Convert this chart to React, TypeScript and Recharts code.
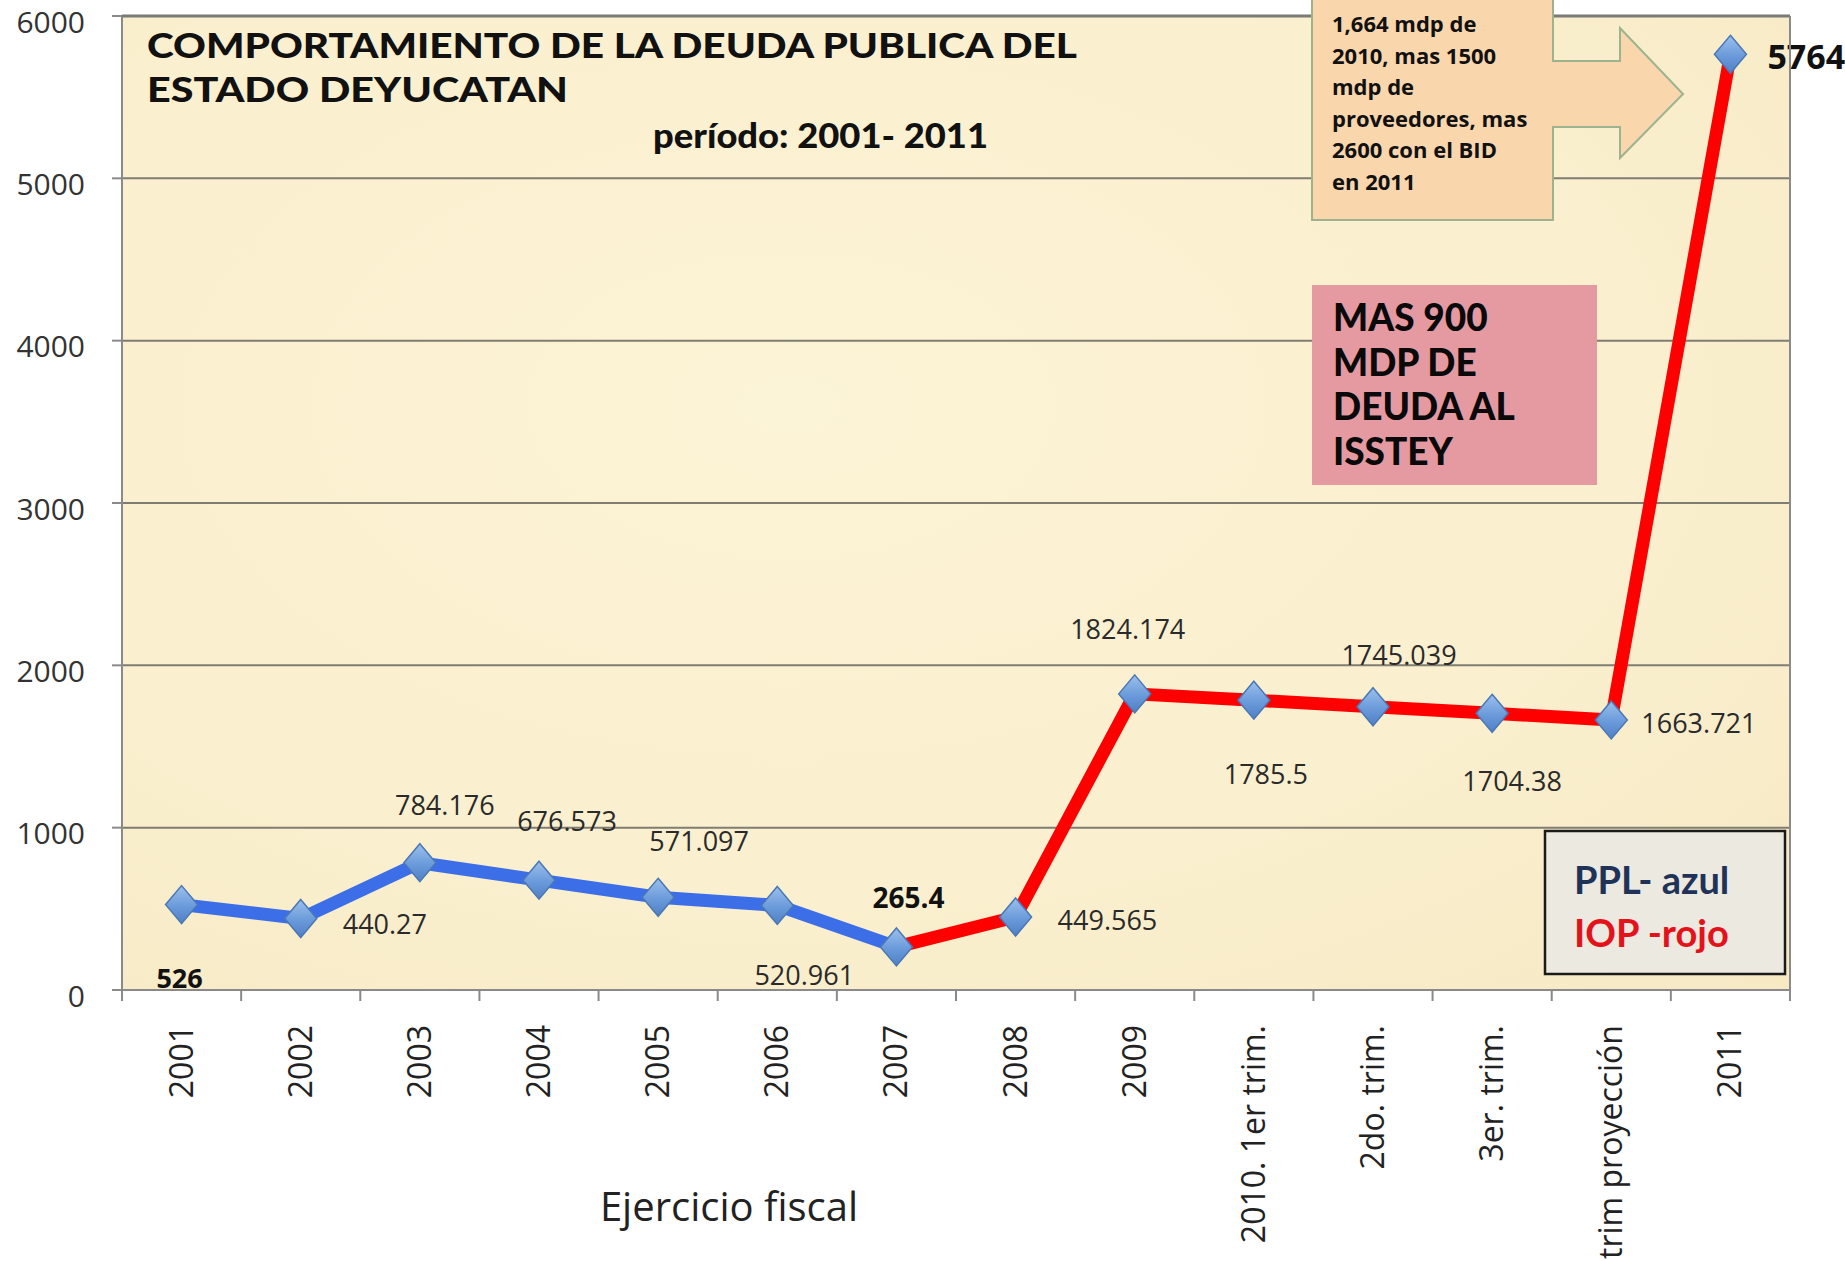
import React from "react";
import { LineChart, Line, XAxis, YAxis, CartesianGrid, LabelList } from "recharts";

const categories = [
  "2001", "2002", "2003", "2004", "2005", "2006", "2007", "2008", "2009",
  "2010. 1er trim.", "2do. trim.", "3er. trim.", "trim proyección", "2011",
];
const pplValues = [526, 440.27, 784.176, 676.573, 571.097, 520.961, 265.4, null, null, null, null, null, null, null];
const iopValues = [null, null, null, null, null, null, 265.4, 449.565, 1824.174, 1785.5, 1745.039, 1704.38, 1663.721, 5764];
const yTicks = [0, 1000, 2000, 3000, 4000, 5000, 6000];

const calloutLines = ["1,664 mdp de", "2010, mas 1500", "mdp de", "proveedores, mas", "2600 con el BID", "en 2011"];
const isssteyLines = ["MAS 900", "MDP DE", "DEUDA AL", "ISSTEY"];

const data = categories.map((cat, i) => ({ cat, ppl: pplValues[i], iop: iopValues[i] }));

// layout
const W = 1845;
const H = 1261;
const PLOT_L = 122;
const PLOT_R = 1790;
const PLOT_T = 16;
const PLOT_B = 990;
const HALF_STEP = (PLOT_R - PLOT_L) / categories.length / 2;

// where each value label sits relative to its marker
const labelPos = [
  { dx: -2, dy: 83, anchor: "middle", bold: true, size: 27 },
  { dx: 42, dy: 15, anchor: "start" },
  { dx: 25, dy: -48, anchor: "middle" },
  { dx: 28, dy: -49, anchor: "middle" },
  { dx: 41, dy: -46, anchor: "middle" },
  { dx: 27, dy: 80, anchor: "middle" },
  { dx: 12, dy: -39, anchor: "middle", bold: true, size: 28 },
  { dx: 42, dy: 13, anchor: "start" },
  { dx: -7, dy: -55, anchor: "middle" },
  { dx: 12, dy: 84, anchor: "middle" },
  { dx: 26, dy: -42, anchor: "middle" },
  { dx: 20, dy: 78, anchor: "middle" },
  { dx: 30, dy: 13, anchor: "start" },
  { dx: 37, dy: 15, anchor: "start", bold: true, size: 34 },
];

const FONT = "'Open Sans', 'Noto Sans', sans-serif";
const TITLE_FONT = "Lato, 'Open Sans', sans-serif";

const makeLabel = (values: (number | null)[], skip: number[]) => (props: any) => {
  const value = props.value;
  if (value == null) return null;
  const i = props.index ?? values.indexOf(value);
  if (skip.includes(i)) return null;
  const x = props.x ?? props.viewBox?.x;
  const y = props.y ?? props.viewBox?.y;
  if (x == null || y == null) return null;
  const p: any = labelPos[i];
  return (
    <text
      key={`lbl-${i}`}
      x={x + p.dx}
      y={y + p.dy}
      textAnchor={p.anchor}
      fontFamily={FONT}
      fontSize={p.size ?? 27}
      fontWeight={p.bold ? 700 : 400}
      fill={p.bold ? "#111" : "#2a2a2a"}
    >
      {String(value)}
    </text>
  );
};

const makeDot = (prefix: string, skip: number[]) => (props: any) => {
  const { cx, cy, index, value } = props;
  if (cx == null || cy == null || value == null || skip.includes(index)) {
    return <g key={`${prefix}-${index}`} />;
  }
  return (
    <polygon
      key={`${prefix}-${index}`}
      points={`${cx},${cy - 19} ${cx + 16},${cy} ${cx},${cy + 19} ${cx - 16},${cy}`}
      fill="url(#diamondFill)"
      stroke="#4a78b5"
      strokeWidth={1.5}
    />
  );
};

const CategoryTick = (props: any) => {
  const { x, payload, index } = props;
  const last = index === categories.length - 1;
  const ty = PLOT_B + 35;
  return (
    <g>
      <line x1={x - HALF_STEP} x2={x - HALF_STEP} y1={PLOT_B} y2={PLOT_B + 11} stroke="#8a8a8a" strokeWidth={2} />
      {last && <line x1={x + HALF_STEP} x2={x + HALF_STEP} y1={PLOT_B} y2={PLOT_B + 11} stroke="#8a8a8a" strokeWidth={2} />}
      <text
        x={x + 11}
        y={ty}
        transform={`rotate(-90, ${x + 11}, ${ty})`}
        textAnchor="end"
        fontFamily={FONT}
        fontSize={32}
        fill="#222"
      >
        {payload.value}
      </text>
    </g>
  );
};

export default function App() {
  return (
    <div style={{ position: "absolute", left: 0, top: 0, width: W, height: H, background: "#fff", overflow: "hidden" }}>
      <div
        style={{
          position: "absolute",
          left: PLOT_L,
          top: PLOT_T,
          width: PLOT_R - PLOT_L,
          height: PLOT_B - PLOT_T,
          background: "radial-gradient(ellipse at 40% 40%, #fcf4d6 0%, #faefce 60%, #f6e9c4 100%)",
        }}
      />
      <div style={{ position: "absolute", left: 0, top: 0 }}>
        <LineChart width={W} height={H} data={data} margin={{ top: PLOT_T, right: W - PLOT_R, bottom: 0, left: 0 }}>
          <defs>
            <linearGradient id="diamondFill" x1="0" y1="0" x2="0" y2="1">
              <stop offset="0%" stopColor="#9cc0ec" />
              <stop offset="55%" stopColor="#6a9ada" />
              <stop offset="100%" stopColor="#4f80c6" />
            </linearGradient>
          </defs>
          <CartesianGrid vertical={false} stroke="#7f7c72" strokeWidth={2} />
          <XAxis
            dataKey="cat"
            interval={0}
            height={H - PLOT_B}
            padding={{ left: HALF_STEP, right: HALF_STEP }}
            tickLine={false}
            axisLine={{ stroke: "#8a8a8a", strokeWidth: 2 }}
            tick={<CategoryTick />}
          />
          <YAxis
            width={PLOT_L}
            domain={[0, 6000]}
            ticks={yTicks}
            interval={0}
            tickSize={10}
            tickMargin={27}
            axisLine={{ stroke: "#8a8a8a", strokeWidth: 2 }}
            tickLine={{ stroke: "#8a8a8a", strokeWidth: 2 }}
            tick={{ fontFamily: FONT, fontSize: 30, fill: "#333", dy: 6 }}
          />
          <Line
            dataKey="iop"
            stroke="#ff0000"
            strokeWidth={13}
            strokeLinejoin="round"
            isAnimationActive={false}
            dot={makeDot("iop", [6])}
            activeDot={false}
          >
            <LabelList dataKey="iop" content={makeLabel(iopValues, [6])} />
          </Line>
          <Line
            dataKey="ppl"
            stroke="#3c6ee8"
            strokeWidth={13}
            strokeLinejoin="round"
            isAnimationActive={false}
            dot={makeDot("ppl", [])}
            activeDot={false}
          >
            <LabelList dataKey="ppl" content={makeLabel(pplValues, [])} />
          </Line>
        </LineChart>
      </div>
      <svg width={W} height={H} style={{ position: "absolute", left: 0, top: 0, pointerEvents: "none" }}>
        {/* plot frame */}
        <line x1={PLOT_L} x2={PLOT_R} y1={PLOT_T} y2={PLOT_T} stroke="#7a7a76" strokeWidth={3} />
        <line x1={PLOT_R} x2={PLOT_R} y1={PLOT_T} y2={PLOT_B} stroke="#8a8a8a" strokeWidth={2} />

        {/* title */}
        <text x={147} y={58} textLength={930} lengthAdjust="spacingAndGlyphs" fontFamily={TITLE_FONT} fontWeight={900} fontSize={35} fill="#111">
          COMPORTAMIENTO DE LA DEUDA PUBLICA DEL
        </text>
        <text x={147} y={102} textLength={421} lengthAdjust="spacingAndGlyphs" fontFamily={TITLE_FONT} fontWeight={900} fontSize={35} fill="#111">
          ESTADO DEYUCATAN
        </text>
        <text x={653} y={148} textLength={335} lengthAdjust="spacingAndGlyphs" fontFamily={TITLE_FONT} fontWeight={900} fontSize={35} fill="#111">
          período: 2001- 2011
        </text>

        {/* callout with arrow */}
        <path
          d="M1312,-4 H1553 V61 H1620 V28 L1683,94 L1620,158 V127 H1553 V220 H1312 Z"
          fill="#fad6ad"
          stroke="#9db38f"
          strokeWidth={2}
        />
        {calloutLines.map((t, i) => (
          <text key={t} x={1332} y={32 + i * 31.6} fontFamily={FONT} fontWeight={700} fontSize={22} fill="#111">
            {t}
          </text>
        ))}

        {/* ISSTEY box */}
        <rect x={1312} y={285} width={285} height={200} fill="#e59aa2" />
        {isssteyLines.map((t, i) => (
          <text key={t} x={1333} y={331 + i * 44.7} fontFamily={TITLE_FONT} fontWeight={900} fontSize={37} fill="#0a0a0a">
            {t}
          </text>
        ))}

        {/* legend box */}
        <rect x={1545} y={831} width={240} height={143} fill="#ebe9e0" stroke="#1a1a1a" strokeWidth={2.5} />
        <text x={1574} y={894} fontFamily={TITLE_FONT} fontWeight={700} fontSize={38} fill="#1f3359">
          PPL- azul
        </text>
        <text x={1574} y={947} fontFamily={TITLE_FONT} fontWeight={700} fontSize={38} fill="#e3121b">
          IOP -rojo
        </text>

        {/* axis title */}
        <text x={729} y={1221} textAnchor="middle" fontFamily={FONT} fontSize={40} fill="#222">
          Ejercicio fiscal
        </text>
      </svg>
    </div>
  );
}
